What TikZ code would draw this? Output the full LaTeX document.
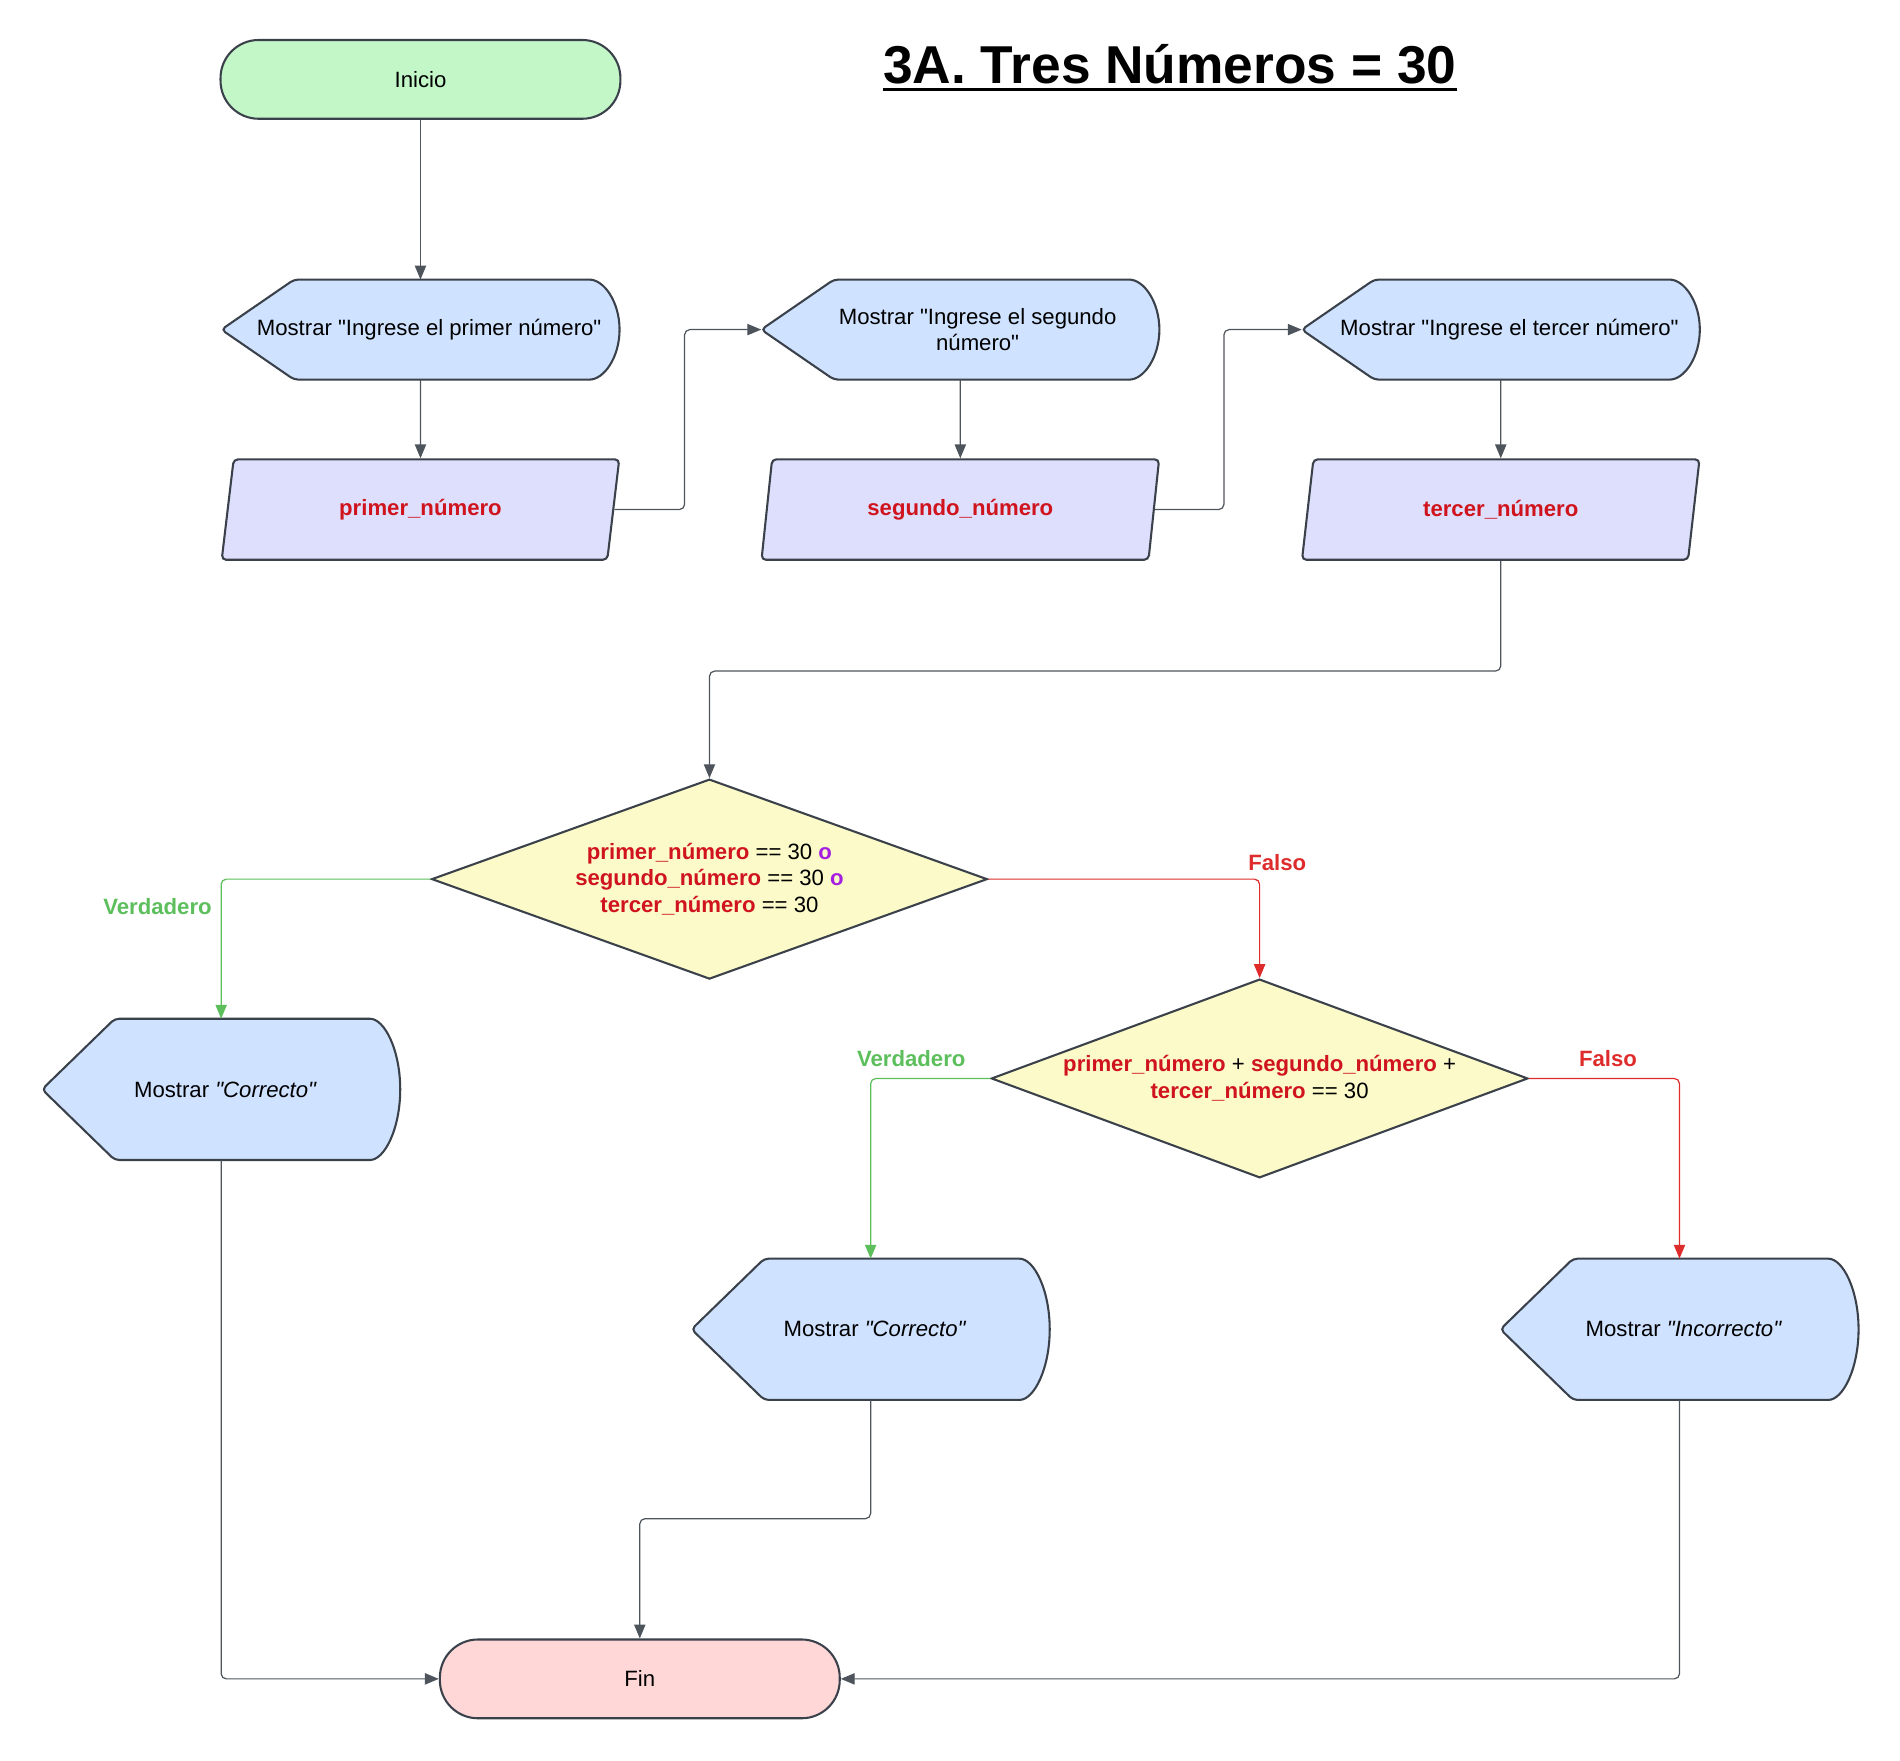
\documentclass[tikz,border=0pt]{standalone}
\usepackage{fontspec}
\setmainfont{Liberation Sans}
\usetikzlibrary{shapes.geometric,arrows.meta,backgrounds,calc}

\definecolor{edgegray}{HTML}{3A414A}
\definecolor{linegray}{HTML}{4E545C}
\definecolor{startgreen}{HTML}{C3F7C8}
\definecolor{endpink}{HTML}{FFD7D7}
\definecolor{dispblue}{HTML}{CFE2FF}
\definecolor{inlav}{HTML}{DEDFFC}
\definecolor{decyellow}{HTML}{FBFAC8}
\definecolor{varred}{HTML}{D0141E}
\definecolor{yesgreen}{HTML}{5CBF5C}
\definecolor{nored}{HTML}{DE2B2B}
\definecolor{orpurple}{HTML}{A61EE0}

\newcommand{\flowfont}{\fontsize{12.8}{15.4}\selectfont}
\newcommand{\nvar}[1]{\textcolor{varred}{\textbf{#1}}}
\newcommand{\oor}{\textcolor{orpurple}{\textbf{o}}}
\newcommand{\dq}{\textquotedbl}
\newcommand{\tipgap}[1]{\hspace*{#1}}

\tikzset{
  terminal/.style={rectangle, rounded corners=22pt, draw=edgegray, line width=1.2pt,
    minimum width=231pt, minimum height=45.5pt, inner sep=0},
  dispnode/.style={rectangle, minimum width=229.6pt, minimum height=57.4pt, inner sep=0, align=center},
  bigdisp/.style={dispnode, minimum width=206.5pt, minimum height=81.2pt},
  dispshape/.style={draw=edgegray, fill=dispblue, line width=1.2pt, rounded corners=2.5pt},
  inbox/.style={trapezium, trapezium left angle=76, trapezium right angle=104,
    trapezium stretches=true, draw=edgegray, fill=inlav, line width=1.2pt, rounded corners=2.5pt,
    minimum width=230pt, minimum height=58pt, inner sep=0, font=\flowfont\bfseries, text=varred},
  decision/.style={diamond, draw=edgegray, fill=decyellow, line width=1.2pt, inner sep=0, align=center},
  lbl/.style={font=\flowfont\bfseries, inner sep=0},
  conn/.style={draw=linegray, line width=0.7pt, rounded corners=3pt, -{Triangle[length=8pt,width=6.5pt]}}
}

\begin{document}
\begin{tikzpicture}[x=0.7pt, y=-0.7pt, font=\flowfont]
\useasboundingbox (0,0) rectangle (1568,1452.5);

% title
\node[font=\fontsize{30.8}{36}\selectfont\bfseries, inner sep=0] (title) at (965.5,53) {3A. Tres Números = 30};
\draw[line width=2.2pt] ([yshift=-3.5pt]title.base west) -- ([yshift=-3.5pt]title.base east);

% first row
\node[terminal, fill=startgreen] (ini) at (347,65.5) {Inicio};
\node[dispnode] (m1) at (347,272) {\tipgap{10pt}Mostrar \dq Ingrese el primer número\dq};
\node[inbox] (in1) at (347,420.5) {primer\_número};
\node[dispnode] (m2) at (792.5,272) {\tipgap{20pt}Mostrar \dq Ingrese el segundo\\ \tipgap{20pt}número\dq};
\node[inbox] (in2) at (792.5,420.5) {segundo\_número};
\node[dispnode] (m3) at (1238.5,272) {\tipgap{10pt}Mostrar \dq Ingrese el tercer número\dq};
\node[inbox] (in3) at (1238.5,420.5) {tercer\_número};

% decisions
\node[decision, aspect=2.78, minimum width=321pt, minimum height=115.5pt] (dec1) at (585.5,725.5)
  {\nvar{primer\_número} == 30 \oor\\ \nvar{segundo\_número} == 30 \oor\\ \nvar{tercer\_número} == 30};
\node[decision, aspect=2.7, minimum width=310pt, minimum height=114.8pt] (dec2) at (1039.5,890)
  {\nvar{primer\_número} + \nvar{segundo\_número} +\\ \nvar{tercer\_número} == 30};

% outputs
\node[bigdisp] (m4) at (182.5,899) {\tipgap{5pt}Mostrar \textit{\dq Correcto\dq}};
\node[bigdisp] (m5) at (718.5,1097) {\tipgap{5pt}Mostrar \textit{\dq Correcto\dq}};
\node[bigdisp] (m6) at (1386,1097) {\tipgap{5pt}Mostrar \textit{\dq Incorrecto\dq}};
\node[terminal, fill=endpink] (fin) at (528,1385.5) {Fin};

% branch labels
\node[lbl, text=yesgreen] (v1) at (130,748) {Verdadero};
\node[lbl, text=nored] (f1) at (1054,712) {Falso};
\node[lbl, text=yesgreen] (v2) at (752,874) {Verdadero};
\node[lbl, text=nored] (f2) at (1327,874) {Falso};

% display outlines behind the texts
\begin{scope}[on background layer]
  \foreach \m in {m1,m2,m3,m4,m5,m6}
    \draw[dispshape] let \p1=(\m.north east), \p2=(\m.south east) in
      (\m.west) -- ([xshift=42pt]\m.north west) -- ([xshift=-20pt]\m.north east)
      arc[start angle=90, end angle=-90, x radius=20pt, y radius={(\y1-\y2)/2}]
      -- ([xshift=42pt]\m.south west) -- cycle;
\end{scope}

% connectors
\draw[conn] (ini) -- (m1);
\draw[conn] (m1) -- (in1);
\draw[conn] (in1.east) -- ++(58,0) |- (m2.west);
\draw[conn] (m2) -- (in2);
\draw[conn] (in2.east) -- ++(57,0) |- (m3.west);
\draw[conn] (m3) -- (in3);
\draw[conn] (in3.south) -- ++(0,91) -| (dec1.north);
\draw[conn, draw=yesgreen] (dec1.west) -| (m4.north);
\draw[conn, draw=nored] (dec1.east) -| (dec2.north);
\draw[conn, draw=yesgreen] (dec2.west) -| (m5.north);
\draw[conn, draw=nored] (dec2.east) -| (m6.north);
\draw[conn] (m4.south) |- (fin.west);
\draw[conn] (m5.south) -- ++(0,98) -| (fin.north);
\draw[conn] (m6.south) |- (fin.east);
\end{tikzpicture}
\end{document}
